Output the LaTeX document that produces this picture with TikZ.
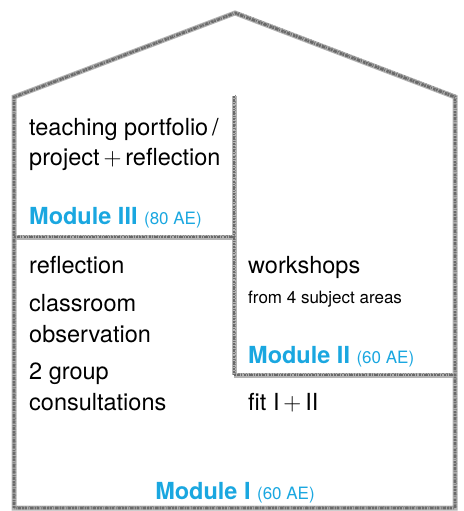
\documentclass[tikz,border=0pt]{standalone}
\usepackage{fontspec}
\setmainfont{TeX Gyre Heros}
\definecolor{modblue}{HTML}{1AA7E0}
\definecolor{chalklight}{HTML}{B4B4B4}
\definecolor{chalkdark}{HTML}{6A6A6A}
\newcommand{\bigplus}{\,$+$\,}
\begin{document}
\begin{tikzpicture}[x=1pt,y=-1pt,
  wallbase/.style={draw=chalklight,line width=5pt,line cap=butt,line join=miter},
  walltex/.style={draw=chalkdark,line width=2.8pt,line cap=butt,line join=miter,
     dash pattern=on 1.8pt off 1.0pt on 3.6pt off 0.8pt on 0.9pt off 1.4pt on 2.4pt off 0.6pt},
  walltexb/.style={draw=chalkdark!80,line width=1.2pt,line cap=butt,line join=miter,
     dash pattern=on 0.6pt off 2.4pt on 1.2pt off 1.8pt on 0.4pt off 1.3pt},
  txt/.style={anchor=base west,inner sep=0pt,font=\fontsize{23.5}{30}\selectfont},
  small/.style={anchor=base west,inner sep=0pt,font=\fontsize{17}{20}\selectfont},
  modlbl/.style={anchor=base west,inner sep=0pt,text=modblue,font=\fontsize{23.5}{28}\selectfont}]
\useasboundingbox (0,0) rectangle (463,511);
% house outline and inner walls
\foreach \st in {wallbase,walltex} {
  \draw[\st] (14,508) -- (14,97) -- (235,13) -- (455,97) -- (455,508) -- cycle;
  \draw[\st] (234,96) -- (234,375);
  \draw[\st] (14,237) -- (234,237);
  \draw[\st] (234,375) -- (455,375);
}
\begin{scope}[transform canvas={xshift=1.4pt,yshift=1.4pt}]
\draw[walltexb] (14,508) -- (14,97) -- (235,13) -- (455,97) -- (455,508) -- cycle;
\draw[walltexb] (234,96) -- (234,375);
\draw[walltexb] (14,237) -- (234,237);
\draw[walltexb] (234,375) -- (455,375);
\end{scope}
% Module III
\node[txt] (t1) at (29,135) {teaching portfolio\,/};
\node[txt] (t2) at (29,165) {project\bigplus reflection};
\node[modlbl] (m3) at (29,224) {\textbf{Module III} {\fontsize{17}{20}\selectfont(80 AE)}};
% Module I left
\node[txt] (r1) at (29,273) {reflection};
\node[txt] (r2) at (29,311) {classroom};
\node[txt] (r3) at (29,342) {observation};
\node[txt] (r4) at (29,379) {2 group};
\node[txt] (r5) at (29,410) {consultations};
% Module II
\node[txt] (w1) at (248,273) {workshops};
\node[small] (w2) at (248,303) {from 4 subject areas};
\node[modlbl] (m2) at (248,363) {\textbf{Module II} {\fontsize{17}{20}\selectfont(60 AE)}};
% Module I right
\node[txt] (f1) at (248,410) {fit I\bigplus II};
\node[modlbl,anchor=base] (m1) at (235,499) {\textbf{Module I} {\fontsize{17}{20}\selectfont(60 AE)}};
\end{tikzpicture}
\end{document}
